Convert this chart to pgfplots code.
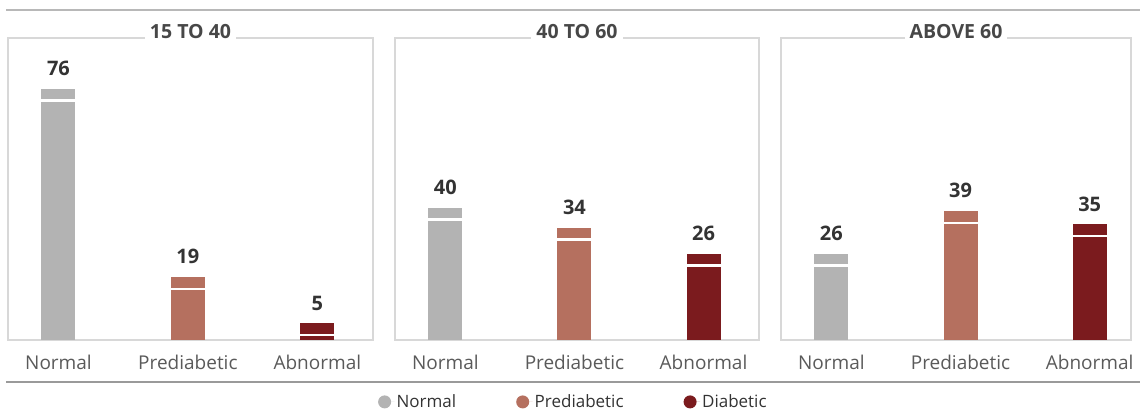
\documentclass[border=0pt]{standalone}
\usepackage{fontspec}
\setmainfont{Open Sans}
\usepackage{pgfplots}
\pgfplotsset{compat=1.18}
\usepackage{pgfplotstable}

\definecolor{cNormal}{HTML}{B3B3B3}
\definecolor{cPre}{HTML}{B5705F}
\definecolor{cDia}{HTML}{7B1B1E}
\definecolor{frameGray}{HTML}{D8D8D8}
\definecolor{ruleGray}{HTML}{9A9A9A}
\definecolor{txt}{HTML}{333333}
\definecolor{tickTxt}{HTML}{5A5A5A}

% share of each group (%), by age band
\pgfplotstableread{
x v
0 76
1 19
2 5
}\bandA
\pgfplotstableread{
x v
0 40
1 34
2 26
}\bandB
\pgfplotstableread{
x v
0 26
1 39
2 35
}\bandC

\pgfplotsset{
  panel/.style={
    scale only axis, height=302pt,
    ymin=0, ymax=91.5, xmin=-0.39, xmax=2.43,
    axis line style={frameGray, line width=1.5pt},
    ytick=\empty, xtick={0,1,2},
    xticklabels={Normal,Prediabetic,Abnormal},
    major tick length=0pt,
    /pgf/number format/assume math mode=true,
    xticklabel style={font=\fontsize{19}{19}\selectfont, text=tickTxt, anchor=base, yshift=-29pt},
    title style={at={(0.5,1)}, anchor=center, fill=white, inner xsep=5pt,
      font=\bfseries\fontsize{19.5}{19.5}\selectfont, text=txt!90},
    clip=false,
  },
  valbar/.style={ybar, bar width=34pt, bar shift=0pt, draw=none, fill=#1,
    nodes near coords,
    every node near coord/.append style={font=\bfseries\fontsize{20}{20}\selectfont,
      text=txt, anchor=south, inner sep=0pt, yshift=13pt},
    legend image code/.code={\fill[#1] (0pt,0pt) circle (6.5pt); \path (-6.5pt,0pt) -- (10pt,0pt);}},
  stripe/.style={only marks, mark=-, mark size=17pt,
    mark options={white, line width=2.5pt}, forget plot},
}

\newcommand{\bands}[1]{%
  \addplot[valbar=cNormal] table[x=x, y=v, restrict expr to domain={\coordindex}{0:0}] #1;
  \addplot[valbar=cPre] table[x=x, y=v, restrict expr to domain={\coordindex}{1:1}] #1;
  \addplot[valbar=cDia] table[x=x, y=v, restrict expr to domain={\coordindex}{2:2}] #1;
  \addplot[stripe] table[x=x, y expr=\thisrow{v}-3.5] #1;
}

\begin{document}
\begin{tikzpicture}
\path[use as bounding box] (0pt,0pt) rectangle (1140pt,410pt);
\draw[ruleGray!70, line width=2pt] (6pt,400pt) -- (1140pt,400pt);
\draw[ruleGray, line width=1.6pt] (6pt,28pt) -- (1140pt,28pt);

\begin{axis}[panel, width=365pt, at={(8pt,70pt)}, anchor=south west, title={15 TO 40}]
\bands{\bandA}
\end{axis}

\begin{axis}[panel, width=364pt, at={(395pt,70pt)}, anchor=south west, title={40 TO 60},
  legend columns=3,
  legend style={draw=none, fill=none, at={(0.49,-0.205)}, anchor=center,
    font=\fontsize{17}{17}\selectfont, text=txt,
    /tikz/every even column/.append style={column sep=58pt}},
  ]
\bands{\bandB}
\legend{Normal, Prediabetic, Diabetic}
\end{axis}

\begin{axis}[panel, width=350pt, xmax=2.32, at={(781pt,70pt)}, anchor=south west, title={ABOVE 60}]
\bands{\bandC}
\end{axis}
\end{tikzpicture}
\end{document}
